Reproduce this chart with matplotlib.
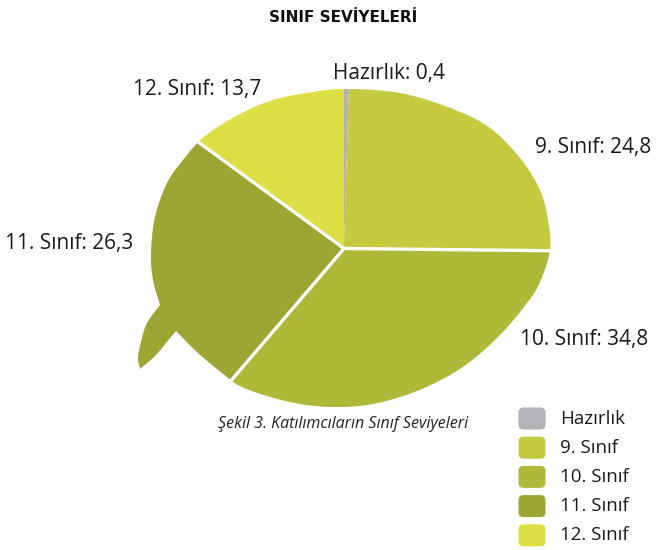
import numpy as np
import matplotlib
matplotlib.use("Agg")
import matplotlib.pyplot as plt
from matplotlib.path import Path
from matplotlib.patches import PathPatch, FancyBboxPatch
from matplotlib.transforms import Affine2D

# data
categories = ["Hazırlık", "9. Sınıf", "10. Sınıf", "11. Sınıf", "12. Sınıf"]
values = [0.4, 24.8, 34.8, 26.3, 13.7]
colors = ["#B1B3B6", "#C5CA41", "#B0B83A", "#9EA532", "#DCE044"]

# speech bubble outline in pixel coords, split at the sharp corners of the tail
bubble_body = [(160, 305), (153, 280), (151, 253), (155, 217), (167, 183),
               (183, 160), (205, 136), (240, 114), (273, 100), (307, 93),
               (344, 89), (400, 93), (453, 109), (490, 128), (520, 158),
               (540, 190), (548, 220), (550, 250), (540, 282), (527, 303),
               (500, 335), (467, 364), (433, 384), (400, 397), (367, 405),
               (333, 407), (300, 404), (267, 396), (240, 386), (222, 373),
               (197, 352), (176, 331)]
tail_inner = [(176, 331), (166, 343), (155, 356), (140, 369)]
tail_outer = [(140, 369), (138, 358), (141, 342), (147, 323), (160, 305)]


def smooth(pts, n=12):
    # open Catmull-Rom through the points
    p = np.array(pts, float)
    p = np.vstack([2 * p[0] - p[1], p, 2 * p[-1] - p[-2]])
    out = []
    for i in range(1, len(p) - 2):
        p0, p1, p2, p3 = p[i - 1], p[i], p[i + 1], p[i + 2]
        for t in np.linspace(0, 1, n, endpoint=False):
            t2, t3 = t * t, t * t * t
            out.append(0.5 * (2 * p1 + (-p0 + p2) * t + (2 * p0 - 5 * p1 + 4 * p2 - p3) * t2
                              + (-p0 + 3 * p1 - 3 * p2 + p3) * t3))
    return np.array(out)


outline = np.vstack([smooth(bubble_body), smooth(tail_inner), smooth(tail_outer)])
outline = np.vstack([outline, outline[:1]])

cx, cy = 344, 248.5
squash = 0.85

fig = plt.figure(figsize=(6.62, 5.5), dpi=100)
ax = fig.add_axes([0, 0, 1, 1])

wedges, _ = ax.pie(values, colors=colors, startangle=-90, counterclock=True,
                   radius=400, center=(0, 0), wedgeprops=dict(linewidth=0))

ax.set_xlim(0, 662)
ax.set_ylim(550, 0)
ax.set_aspect("auto")
ax.axis("off")

pie_tr = Affine2D().scale(1, squash).translate(cx, cy) + ax.transData
clip = PathPatch(Path(outline, closed=True), facecolor="none", edgecolor="none",
                 transform=ax.transData)
ax.add_patch(clip)
for w in wedges:
    w.set_transform(pie_tr)
    w.set_clip_on(True)
    w.set_clip_path(clip)

# white separators (not around the thin Hazırlık slice)
bounds = -90 + 360 * np.cumsum(values) / sum(values)
for a in bounds[1:4]:
    t = np.deg2rad(a)
    ln, = ax.plot([0, 400 * np.cos(t)], [0, 400 * np.sin(t)], color="white",
                  lw=2.4, transform=pie_tr, solid_capstyle="butt")
    ln.set_clip_path(clip)

font = "Open Sans"
lab = [f"{c}: {str(v).replace('.', ',')}" for c, v in zip(categories, values)]
label_pos = [(333, 73), (535, 148), (520, 340), (5, 243), (133, 90)]
for t, (x, y) in zip(lab, label_pos):
    ax.text(x, y, t, ha="left", va="center", fontsize=15, family=font, color="#1a1a1a")

ax.text(343, 17, "SINIF SEVİYELERİ", ha="center", va="center", fontsize=11,
        fontweight="bold", family="Liberation Sans Narrow", color="#111111")

ax.text(343, 424, "Şekil 3. Katılımcıların Sınıf Seviyeleri", ha="center",
        va="center", fontsize=11.5, style="italic", family=font, color="#222222")

# legend
for i, (c, col) in enumerate(zip(categories, colors)):
    y = 407 + i * 29.2
    ax.add_patch(FancyBboxPatch((520, y + 2), 24, 19, boxstyle="round,pad=1.5,rounding_size=5",
                                facecolor=col, edgecolor="none"))
    ax.text(560, y + 11.5, c, ha="left", va="center", fontsize=13.5, family=font,
            color="#1a1a1a")

fig.savefig("out.png", dpi=100)
